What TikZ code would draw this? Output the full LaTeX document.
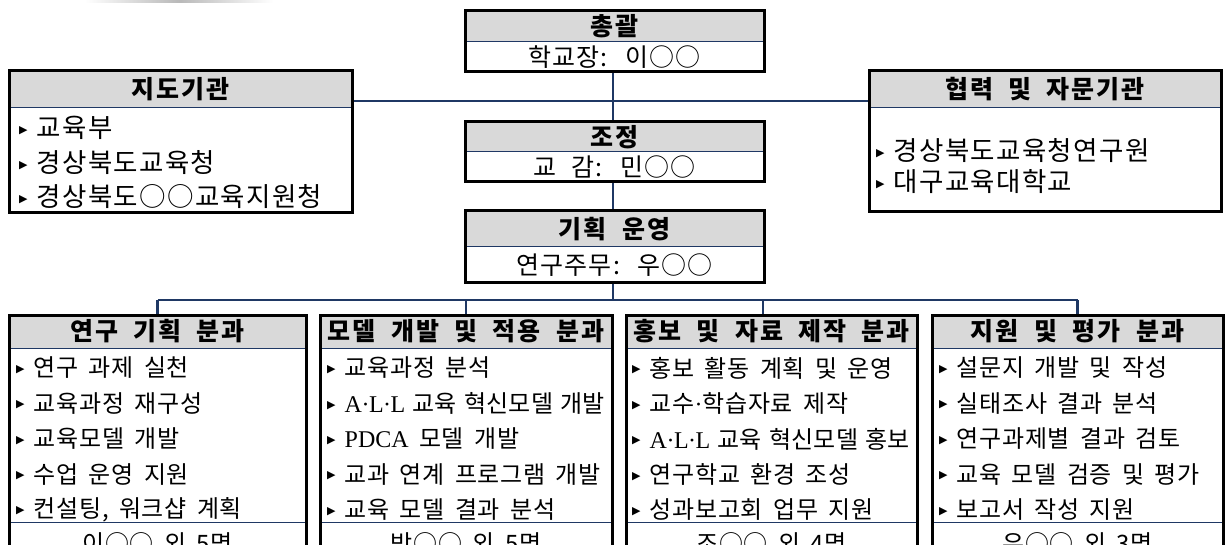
\documentclass[tikz,border=0pt]{standalone}
\usepackage{fontspec}
\setmainfont{Noto Sans CJK KR}
\newfontfamily\topfont{Noto Sans CJK KR}[LetterSpace=5, WordSpace=1.4]
\newfontfamily\ctrfont{Noto Sans CJK KR}[LetterSpace=5, WordSpace=2.2]
\newfontfamily\botfont{Noto Sans CJK KR}[LetterSpace=3, WordSpace=1.7]
\newfontfamily\tightfont{Noto Sans CJK KR}[LetterSpace=1, WordSpace=1.3]
\newfontfamily\hdrfont{Noto Sans CJK KR}[LetterSpace=8, WordSpace=2]
\newfontfamily\latfont{Liberation Serif}
\newfontfamily\symfont{DejaVu Sans}
\usetikzlibrary{fit,calc}
\definecolor{navy}{RGB}{31,56,100}
\definecolor{hdrfill}{RGB}{217,217,217}
\newcommand\bul{\raisebox{4.5pt}{\symfont\fontsize{11}{11}\selectfont ▶}\hspace{9pt}}
\newcommand\dt{{\latfont ·}}
\newcommand\ALL{{\latfont A\kern-0.5pt·\kern-0.5pt L\kern-0.5pt·\kern-0.5pt L}}
\newcommand\orgbox[6]{%
  \fill[hdrfill] (#2,#3) rectangle (#4,#6);
  \draw[divider] (#2,#6) -- (#4,#6);
  \node[obox, fit={(#2,#3) (#4,#5)}] (#1) {};
}
\tikzset{
  conn/.style={draw=navy, line width=2.2pt},
  divider/.style={draw=navy, line width=1pt},
  obox/.style={draw=black, line width=3pt, inner sep=0pt},
  hdr/.style={font=\hdrfont\fontsize{25}{27}\selectfont\bfseries, text=black, inner sep=0pt},
  itm/.style={font=\botfont\fontsize{24}{26}\selectfont, anchor=west, inner sep=0pt},
  tight/.style={font=\tightfont\fontsize{24}{26}\selectfont, anchor=west, inner sep=0pt},
  titm/.style={font=\topfont\fontsize{26.5}{28}\selectfont, anchor=west, inner sep=0pt},
  ctr/.style={font=\ctrfont\fontsize{25}{27}\selectfont, inner sep=0pt},
  fctr/.style={font=\botfont\fontsize{24}{26}\selectfont, inner sep=0pt},
}
\begin{document}
\begin{tikzpicture}[x=1pt,y=-1pt]
\useasboundingbox (0,0) rectangle (1228,545);
\clip (0,0) rectangle (1228,545);
\shade[left color=white, right color=white, middle color=gray!55] (85,0) rectangle (273,2.5);

% centre column
\orgbox{chong}{465}{11}{764}{72}{42}
\node[hdr] (chong-h) at (614.5,26.5) {총괄};
\node[ctr] (chong-b) at (614.5,57) {학교장: 이○○};
\orgbox{jojeong}{465}{122}{764}{182}{152}
\node[hdr] (jojeong-h) at (614.5,137) {조정};
\node[ctr] (jojeong-b) at (614.5,167) {교 감: 민○○};
\orgbox{gihoek}{465}{211}{764}{282}{247}
\node[hdr] (gihoek-h) at (614.5,229) {기획 운영};
\node[ctr] (gihoek-b) at (614.5,265) {연구주무: 우○○};

% left box
\orgbox{jido}{9}{71}{352}{213}{108}
\node[hdr] (jido-h) at (180.5,89.5) {지도기관};
\node[titm] (jido-1) at (19,128) {\bul 교육부};
\node[titm] (jido-2) at (19,163) {\bul 경상북도교육청};
\node[titm] (jido-3) at (19,197) {\bul 경상북도○○교육지원청};

% right box
\orgbox{hyeop}{869}{71}{1221}{212}{108}
\node[hdr] (hyeop-h) at (1045,89.5) {협력 및 자문기관};
\node[titm] (hyeop-1) at (876,151) {\bul 경상북도교육청연구원};
\node[titm] (hyeop-2) at (876,182) {\bul 대구교육대학교};

% bottom boxes
\foreach \n/\L/\R in {b1/9/306, b2/320/612, b3/626/917, b4/932/1223}{
  \fill[hdrfill] (\L,315) rectangle (\R,348);
  \draw[divider] (\L,348) -- (\R,348);
  \draw[divider] (\L,522) -- (\R,522);
  \node[obox, fit={(\L,315) (\R,565)}] (\n) {};
}
\node[hdr] (b1-h) at (157.5,331.5) {연구 기획 분과};
\node[hdr] (b2-h) at (466,331.5) {모델 개발 및 적용 분과};
\node[hdr] (b3-h) at (771.5,331.5) {홍보 및 자료 제작 분과};
\node[hdr] (b4-h) at (1077.5,331.5) {지원 및 평가 분과};

\node[itm] (b1-1) at (16,368) {\bul 연구 과제 실천};
\node[itm] (b1-2) at (16,403.5) {\bul 교육과정 재구성};
\node[itm] (b1-3) at (16,439) {\bul 교육모델 개발};
\node[itm] (b1-4) at (16,474.5) {\bul 수업 운영 지원};
\node[itm] (b1-5) at (16,510) {\bul 컨설팅, 워크샵 계획};
\node[fctr] (b1-f) at (157.5,543) {이○○ 외 5명};

\node[itm] (b2-1) at (327,368) {\bul 교육과정 분석};
\node[tight] (b2-2) at (327,403.5) {\bul \ALL\ 교육 혁신모델 개발};
\node[itm] (b2-3) at (327,439) {\bul {\latfont PDCA} 모델 개발};
\node[itm] (b2-4) at (327,474.5) {\bul 교과 연계 프로그램 개발};
\node[itm] (b2-5) at (327,510) {\bul 교육 모델 결과 분석};
\node[fctr] (b2-f) at (466,543) {박○○ 외 5명};

\node[itm] (b3-1) at (632,368) {\bul 홍보 활동 계획 및 운영};
\node[itm] (b3-2) at (632,403.5) {\bul 교수\dt 학습자료 제작};
\node[tight] (b3-3) at (632,439) {\bul \ALL\ 교육 혁신모델 홍보};
\node[itm] (b3-4) at (632,474.5) {\bul 연구학교 환경 조성};
\node[itm] (b3-5) at (632,510) {\bul 성과보고회 업무 지원};
\node[fctr] (b3-f) at (771.5,543) {조○○ 외 4명};

\node[itm] (b4-1) at (939,368) {\bul 설문지 개발 및 작성};
\node[itm] (b4-2) at (939,403.5) {\bul 실태조사 결과 분석};
\node[itm] (b4-3) at (939,439) {\bul 연구과제별 결과 검토};
\node[itm] (b4-4) at (939,474.5) {\bul 교육 모델 검증 및 평가};
\node[itm] (b4-5) at (939,510) {\bul 보고서 작성 지원};
\node[fctr] (b4-f) at (1077.5,543) {우○○ 외 3명};

% connectors
\coordinate (hmid) at (613,101);
\coordinate (bus) at (613,300);
\draw[conn] ([xshift=-1.5pt]chong.south) -- ([xshift=-1.5pt]jojeong.north);
\draw[conn] ([xshift=-1.5pt]jojeong.south) -- ([xshift=-1.5pt]gihoek.north);
\draw[conn] ([xshift=-1.5pt]gihoek.south) -- (bus);
\draw[conn] (hmid -| jido.east) -- (hmid -| hyeop.west);
\draw[conn] (bus -| b1.north) -- (bus -| b4.north);
\draw[conn] (bus -| b1.north) -- (b1.north);
\draw[conn] (bus -| b2.north) -- (b2.north);
\draw[conn] ([xshift=-8.5pt]bus -| b3.north) -- ([xshift=-8.5pt]b3.north);
\draw[conn] (bus -| b4.north) -- (b4.north);
\end{tikzpicture}
\end{document}
